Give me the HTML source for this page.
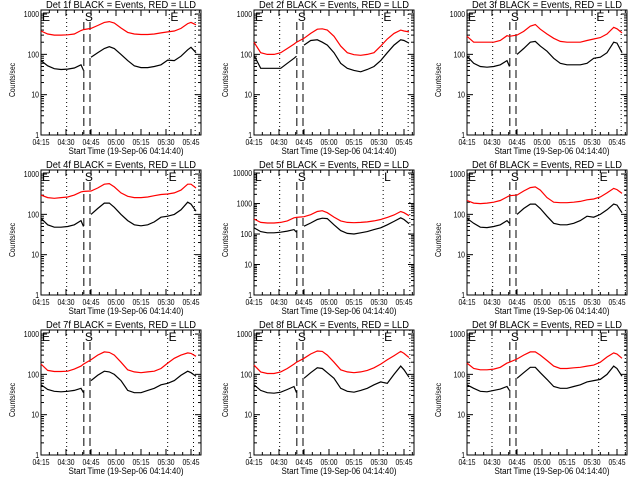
<!DOCTYPE html>
<html><head><meta charset="utf-8"><style>
html,body{margin:0;padding:0;background:#fff;}
svg{display:block;font-family:"Liberation Sans",sans-serif;}
</style></head><body>
<svg id="chart" width="640" height="480" viewBox="0 0 640 480"></svg>
<script>
const T = [0,4,8,12,16,20,24,25.5,30,34,38,41,44,48,52,56,60,64,68,72,76,80,84,88,90,93];
const xTickLabels = ["04:15","04:30","04:45","05:00","05:15","05:30","05:45"];
const detNames = ["1f","2f","3f","4f","5f","6f","7f","8f","9f"];
const black1 = [70,52,44,42,43,46,55,40,85,110,140,155,140,100,70,52,47,47,50,55,72,70,90,130,150,110];
const red1 = [380,320,300,300,305,320,390,410,440,520,620,650,600,450,350,320,310,310,320,340,360,380,440,580,620,540];
const black2 = [95,45,45,45,45,60,80,90,170,220,230,200,170,110,60,45,40,37,42,50,70,110,170,230,220,190];
const red2 = [200,110,100,100,110,140,180,200,250,330,420,430,400,280,160,110,98,95,100,110,160,240,330,400,380,360];
const black3 = [90,60,50,48,50,55,70,50,100,140,200,210,160,120,80,60,55,55,55,60,80,85,110,200,190,110];
const red3 = [280,200,200,200,200,220,290,280,300,370,500,550,420,320,250,210,200,200,200,220,240,260,320,470,430,340];
const black4 = [80,55,48,48,50,55,70,50,100,140,190,190,150,100,70,55,52,55,65,85,90,100,130,200,180,120];
const red4 = [300,260,250,260,270,300,360,370,380,450,560,580,480,340,280,260,260,270,290,310,320,340,400,560,560,450];
const black5 = [160,120,110,110,115,125,140,115,180,230,300,330,320,200,130,105,100,110,120,140,160,200,260,340,300,220];
const red5 = [310,240,230,230,240,270,340,350,370,430,550,580,500,360,270,240,235,240,250,270,300,350,420,550,500,400];
const black6 = [80,60,48,47,50,55,70,60,100,140,180,180,140,90,60,55,55,60,70,90,85,100,130,180,170,110];
const red6 = [220,190,185,190,200,220,270,290,300,380,460,480,400,260,200,195,195,200,210,230,240,270,340,440,410,330];
const black7 = [55,42,38,37,38,40,45,35,70,95,120,115,100,70,40,35,35,40,45,55,60,70,95,120,110,90];
const red7 = [180,125,118,118,120,135,160,180,230,300,360,350,300,200,130,115,110,115,120,140,190,250,300,340,330,280];
const black8 = [55,40,35,34,36,42,50,35,80,110,145,140,110,80,45,38,36,40,45,55,65,60,100,160,130,85];
const red8 = [170,115,105,105,115,140,180,200,250,320,380,370,300,200,130,115,110,115,125,145,180,230,290,370,330,260];
const black9 = [55,45,38,37,40,43,50,40,80,110,150,150,110,75,50,45,45,50,55,65,70,75,100,160,140,90];
const red9 = [190,140,130,130,135,150,190,200,240,300,360,360,300,220,160,140,140,145,150,160,170,200,270,340,320,250];
const blacks = [black1,black2,black3,black4,black5,black6,black7,black8,black9];
const reds = [red1,red2,red3,red4,red5,red6,red7,red8,red9];
const yDecades = [4,4,4,4,5,4,4,4,4];
const dashTimes = [25.7,29.4];
const dotTimes = [[15.4,77,92.5],[15.4,77,92.5],[15.4,77,92.5],[15.4,76,92],[15.4,77.5,93.5],[15.4,79,95],[15.4,76,91.5],[15.4,77.5,93.5],[15,79,95]];
const markLetters = ["E","S","E"];

const NS="http://www.w3.org/2000/svg";
const svg=document.getElementById('chart');
function mk(tag,attrs,parent){const e=document.createElementNS(NS,tag);for(const k in attrs)e.setAttribute(k,attrs[k]);(parent||svg).appendChild(e);return e;}

for(let p=0;p<9;p++){
  const col=p%3,row=Math.floor(p/3);
  const L=41+col*213,R=L+160,Tp=10+row*160,B=Tp+125;
  const nd=yDecades[p];
  const topLog=nd-1+0.1;
  const xs=t=>L+t/96*160;
  const ys=v=>B-Math.log10(Math.max(v,1))/topLog*125;
  const g=mk('g',{});
  
  
  const title=mk('text',{x:(L+R)/2,y:Tp-2,'font-size':10.5,'text-anchor':'middle',textLength:150,lengthAdjust:'spacingAndGlyphs'},g);
  title.textContent='Det '+detNames[p]+' BLACK = Events, RED = LLD';
  
  
  const box=mk('rect',{x:L,y:Tp,width:160,height:125,fill:'none',stroke:'#000','stroke-width':1},g);
  
  
  for(let d=0;d<nd;d++){
    const v=Math.pow(10,d),y=ys(v);
    mk('line',{x1:L,x2:L+6,y1:y,y2:y,stroke:'#000'},g);
    mk('line',{x1:R,x2:R-6,y1:y,y2:y,stroke:'#000'},g);
    const s=String(v);
    const tl=mk('text',{x:L-2,y:y+3,'font-size':8.5,'text-anchor':'end',textLength:s.length*3.8,lengthAdjust:'spacingAndGlyphs'},g);
    tl.textContent=s;
    
    
    for(let m=2;m<10;m++){const yy=ys(v*m);if(yy<Tp)break;
      mk('line',{x1:L,x2:L+3,y1:yy,y2:yy,stroke:'#000'},g);
      mk('line',{x1:R,x2:R-3,y1:yy,y2:yy,stroke:'#000'},g);}
  }
  for(let i=0;i<xTickLabels.length;i++){
    const x=xs(i*15);
    mk('line',{x1:x,x2:x,y1:B,y2:B-6,stroke:'#000'},g);
    mk('line',{x1:x,x2:x,y1:Tp,y2:Tp+6,stroke:'#000'},g);
    for(let m=1;m<3;m++){const xm=xs(i*15+m*5);if(xm>R)break;
      mk('line',{x1:xm,x2:xm,y1:B,y2:B-3,stroke:'#000'},g);
      mk('line',{x1:xm,x2:xm,y1:Tp,y2:Tp+3,stroke:'#000'},g);}
    const xl=mk('text',{x:x,y:B+10,'font-size':8.5,'text-anchor':'middle',textLength:17,lengthAdjust:'spacingAndGlyphs'},g);
    xl.textContent=xTickLabels[i];
    
    
  }
  const xt=mk('text',{x:(L+R)/2+5,y:B+19,'font-size':9.5,'text-anchor':'middle',textLength:115,lengthAdjust:'spacingAndGlyphs'},g);
  xt.textContent='Start Time (19-Sep-06 04:14:40)';
  
  
  const yt=mk('text',{x:0,y:0,'font-size':8,'text-anchor':'middle',textLength:34,lengthAdjust:'spacingAndGlyphs',transform:'translate('+(L-26)+','+(Tp+70)+') rotate(-90)'},g);
  yt.textContent='Counts/sec';
  
  
  dotTimes[p].forEach(t=>{const x=xs(t);const l=mk('line',{x1:x,x2:x,y1:Tp,y2:B,stroke:'#000','stroke-dasharray':'1,3'},g);
    
    });
  dashTimes.forEach(t=>{const x=xs(t);const l=mk('line',{x1:x,x2:x,y1:Tp+12,y2:B-1,stroke:'#000','stroke-dasharray':'8,4'},g);
    
    });
  const letterX=[L+1,xs(dashTimes[0])+1,xs(dotTimes[p][1])+1];
  for(let k=0;k<3;k++){
    const lt=mk('text',{x:letterX[k],y:Tp+11,'font-size':12},g);
    lt.textContent=(p===4&&k!==1)?'L':markLetters[k];
    
    
  }
  const rp=reds[p].map((v,i)=>xs(T[i]).toFixed(1)+','+ys(v).toFixed(1)).join(' ');
  const rl=mk('polyline',{points:rp,fill:'none',stroke:'#ff0000','stroke-width':1.2},g);
  
  
  const b=blacks[p];
  const p1=b.slice(0,8).map((v,i)=>xs(T[i]).toFixed(1)+','+ys(v).toFixed(1)).join(' ');
  const p2=b.slice(8).map((v,i)=>xs(T[i+8]).toFixed(1)+','+ys(v).toFixed(1)).join(' ');
  const bl1=mk('polyline',{points:p1,fill:'none',stroke:'#000','stroke-width':1.2},g);
  
  
  const bl2=mk('polyline',{points:p2,fill:'none',stroke:'#000','stroke-width':1.2},g);
  
  
}
</script>
</body></html>
